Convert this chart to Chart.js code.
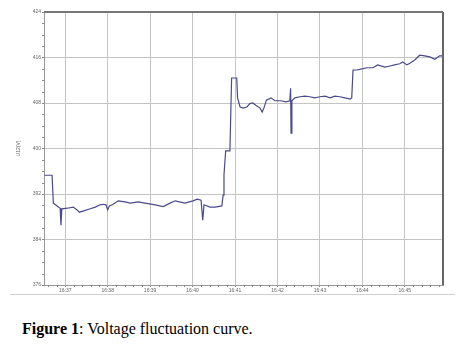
<!DOCTYPE html>
<html>
<head>
<meta charset="utf-8">
<script src="https://cdn.jsdelivr.net/npm/chart.js@4.4.1/dist/chart.umd.min.js"></script>
<style>
  html, body { margin: 0; padding: 0; background: #fff; }
  #wrap { position: relative; width: 469px; height: 357px; overflow: hidden; }
  #c { position: absolute; left: 0; top: 0; }
  #rule { position: absolute; left: 10px; top: 294px; width: 445px; height: 1px; background: #d0d0d0; }
  #cap { position: absolute; left: 22px; top: 320px; font-family: "Liberation Serif", "Times New Roman", serif; font-size: 16px; color: #000; white-space: nowrap; line-height: 18px; }
</style>
</head>
<body>
<div id="wrap">
  <canvas id="c" width="469" height="294"></canvas>
  <div id="rule"></div>
  <div id="cap"><b>Figure 1</b>: Voltage fluctuation curve.</div>
</div>
<script>
// time in minutes after 16:00, voltage in V
const times = [36.51, 36.69, 36.72, 36.84, 36.88, 36.90, 36.92, 37.05, 37.19, 37.28, 37.33, 37.42, 37.59, 37.71, 37.82, 37.89, 37.96, 38.00, 38.04, 38.11, 38.25, 38.41, 38.53, 38.72, 38.88, 39.12, 39.31, 39.47, 39.59, 39.82, 40.01, 40.11, 40.20, 40.24, 40.27, 40.41, 40.53, 40.69, 40.72, 40.74, 40.78, 40.88, 40.92, 41.04, 41.06, 41.12, 41.19, 41.28, 41.35, 41.42, 41.49, 41.59, 41.64, 41.68, 41.74, 41.85, 41.94, 42.08, 42.20, 42.29, 42.31, 42.32, 42.34, 42.41, 42.53, 42.65, 42.76, 42.88, 43.00, 43.12, 43.24, 43.35, 43.47, 43.59, 43.71, 43.75, 43.78, 43.87, 43.94, 44.11, 44.25, 44.36, 44.53, 44.65, 44.76, 44.88, 44.95, 45.05, 45.12, 45.24, 45.35, 45.47, 45.59, 45.71, 45.82, 45.89];
const volts = [395.3, 395.3, 390.4, 389.7, 389.5, 386.5, 389.4, 389.5, 389.7, 389.2, 388.8, 389.0, 389.4, 389.7, 390.1, 390.2, 390.1, 389.2, 389.9, 390.1, 390.8, 390.6, 390.4, 390.6, 390.4, 390.1, 389.8, 390.4, 390.8, 390.4, 390.8, 391.1, 390.9, 387.4, 390.1, 389.7, 389.7, 389.9, 391.8, 395.3, 399.6, 399.6, 412.4, 412.4, 408.9, 407.3, 407.1, 407.3, 407.9, 408.0, 407.6, 407.1, 406.4, 407.1, 408.5, 408.9, 408.4, 408.4, 408.2, 408.4, 410.6, 402.7, 408.4, 408.9, 409.1, 409.2, 409.1, 408.9, 409.1, 409.2, 408.9, 409.2, 409.1, 408.9, 408.7, 408.9, 413.8, 413.8, 413.9, 414.2, 414.2, 414.7, 414.3, 414.5, 414.7, 414.9, 415.2, 414.7, 415.0, 415.6, 416.4, 416.3, 416.1, 415.7, 416.3, 416.3];
const xTickValues = [37, 38, 39, 40, 41, 42, 43, 44, 45];
const xTickLabels = ["16:37", "16:38", "16:39", "16:40", "16:41", "16:42", "16:43", "16:44", "16:45"];
const yTickValues = [376, 384, 392, 400, 408, 416, 424];
const yTitle = "U12(V)";

const points = times.map((t, i) => ({ x: t, y: volts[i] }));

const framePlugin = {
  id: 'frame',
  afterDraw(chart) {
    const { ctx, chartArea: a, scales } = chart;
    ctx.save();
    // minor ticks on x
    ctx.strokeStyle = '#888';
    ctx.lineWidth = 1;
    const xs = scales.x;
    for (let m = 36.6; m < 45.9; m += 0.2) {
      const v = Math.round(m * 10) / 10;
      if (Math.abs(v - Math.round(v)) < 1e-6) continue;
      const px = Math.round(xs.getPixelForValue(v)) + 0.5;
      ctx.beginPath(); ctx.moveTo(px, a.bottom); ctx.lineTo(px, a.bottom + 2); ctx.stroke();
    }
    const ys = scales.y;
    for (let v = 378; v < 424; v += 2) {
      if (v % 8 === 0) continue;
      const py = Math.round(ys.getPixelForValue(v)) + 0.5;
      ctx.beginPath(); ctx.moveTo(a.left, py); ctx.lineTo(a.left - 2, py); ctx.stroke();
    }
    // frame
    ctx.strokeStyle = '#777';
    ctx.lineWidth = 2;
    ctx.beginPath(); ctx.moveTo(a.left, a.top); ctx.lineTo(a.right, a.top); ctx.stroke();
    ctx.strokeStyle = '#666';
    ctx.lineWidth = 2;
    ctx.beginPath(); ctx.moveTo(a.right, a.top); ctx.lineTo(a.right, a.bottom); ctx.stroke();
    ctx.restore();
  }
};

new Chart(document.getElementById('c'), {
  type: 'line',
  data: {
    datasets: [{
      data: points,
      borderColor: '#4a4a8c',
      borderWidth: 1.2,
      pointRadius: 0,
      tension: 0,
      fill: false
    }]
  },
  options: {
    responsive: false,
    animation: false,
    devicePixelRatio: 1,
    layout: { padding: { left: 0, top: 12, right: 26, bottom: 0 } },
    plugins: { legend: { display: false }, tooltip: { enabled: false } },
    scales: {
      x: {
        type: 'linear',
        min: 36.5,
        max: 45.9,
        afterBuildTicks: s => { s.ticks = xTickValues.map(v => ({ value: v })); },
        afterFit: s => { s.height = 9; },
        grid: { color: '#c4c4c4', lineWidth: 1, tickLength: 2, drawTicks: true, tickColor: '#888' },
        border: { color: '#999', width: 1 },
        ticks: {
          padding: 1,
          maxRotation: 0,
          autoSkip: false,
          color: '#666',
          font: { family: 'Liberation Sans, Arial, sans-serif', size: 5 },
          callback: (v) => { const i = xTickValues.indexOf(v); return i >= 0 ? xTickLabels[i] : ''; }
        }
      },
      y: {
        type: 'linear',
        min: 376,
        max: 424,
        afterBuildTicks: s => { s.ticks = yTickValues.map(v => ({ value: v })); },
        afterFit: s => { s.width = 44; },
        grid: { color: '#c4c4c4', lineWidth: 1, tickLength: 2, drawTicks: true, tickColor: '#888' },
        border: { color: '#999', width: 1 },
        title: {
          display: true,
          text: yTitle,
          color: '#666',
          font: { family: 'Liberation Sans, Arial, sans-serif', size: 5 },
          padding: { top: 16, bottom: 0 }
        },
        ticks: {
          padding: 1,
          color: '#666',
          font: { family: 'Liberation Sans, Arial, sans-serif', size: 5 }
        }
      }
    }
  },
  plugins: [framePlugin]
});
</script>
</body>
</html>
